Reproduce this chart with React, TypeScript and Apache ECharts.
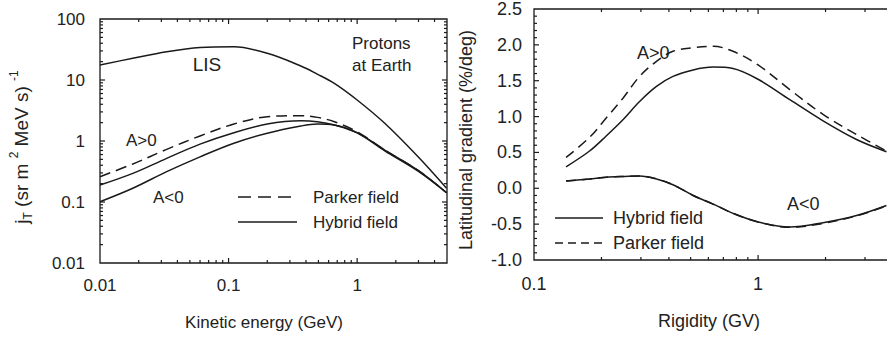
import React, { useEffect, useRef } from "react";
import * as echarts from "echarts";

// ---------- Left panel data: proton spectra at Earth ----------
const energyGeV = [0.01, 0.018, 0.033, 0.06, 0.11, 0.2, 0.365, 0.49, 0.665, 1, 1.64, 2.98, 4.96];
const lisFlux = [17.6, 22.7, 29, 34, 35, 27.4, 17, 12.5, 8.8, 4.7, 1.95, 0.55, 0.168];
const parkerPosFlux = [0.26, 0.42, 0.73, 1.21, 1.9, 2.5, 2.6, 2.44, 2.07, 1.42, 0.71, 0.33, 0.142];
const hybridPosFlux = [0.19, 0.295, 0.52, 0.89, 1.37, 1.9, 2.15, 2.07, 1.83, 1.36, 0.69, 0.32, 0.142];
const hybridNegFlux = [0.101, 0.168, 0.314, 0.55, 0.92, 1.34, 1.76, 1.9, 1.83, 1.37, 0.71, 0.33, 0.142];

// ---------- Right panel data: latitudinal gradient ----------
const rigidityGV = [0.139, 0.177, 0.21, 0.25, 0.296, 0.352, 0.417, 0.513, 0.63, 0.773, 1, 1.38, 1.95, 2.75, 3.74];
const parkerPosGrad = [0.43, 0.71, 0.98, 1.26, 1.56, 1.77, 1.91, 1.96, 1.98, 1.91, 1.72, 1.38, 1.03, 0.75, 0.52];
const hybridPosGrad = [0.3, 0.52, 0.73, 0.96, 1.21, 1.42, 1.56, 1.65, 1.69, 1.67, 1.52, 1.24, 0.94, 0.68, 0.51];
const hybridNegGrad = [0.1, 0.13, 0.155, 0.165, 0.17, 0.13, 0.05, -0.1, -0.22, -0.35, -0.47, -0.54, -0.48, -0.38, -0.24];
const parkerNegGrad = [0.1, 0.13, 0.155, 0.165, 0.17, 0.13, 0.05, -0.1, -0.22, -0.35, -0.47, -0.545, -0.49, -0.385, -0.245];

// ---------- Tick positions ----------
const leftXMajorTicks = [0.1, 1];
const leftXMinorTicks = [0.02, 0.03, 0.04, 0.05, 0.06, 0.07, 0.08, 0.09, 0.2, 0.3, 0.4, 0.5, 0.6, 0.7, 0.8, 0.9, 2, 3, 4];
const leftYMajorTicks = [0.1, 1, 10];
const leftYMinorTicks = [
  0.02, 0.03, 0.04, 0.05, 0.06, 0.07, 0.08, 0.09,
  0.2, 0.3, 0.4, 0.5, 0.6, 0.7, 0.8, 0.9,
  2, 3, 4, 5, 6, 7, 8, 9,
  20, 30, 40, 50, 60, 70, 80, 90,
];
const rightXMajorTicks = [1];
const rightXMinorTicks = [0.2, 0.3, 0.4, 0.5, 0.6, 0.7, 0.8, 0.9, 2, 3];
const rightYMajorTicks = [-0.5, 0, 0.5, 1, 1.5, 2];
const rightYMinorTicks = [
  -0.9, -0.8, -0.7, -0.6, -0.4, -0.3, -0.2, -0.1, 0.1, 0.2, 0.3, 0.4, 0.6, 0.7, 0.8, 0.9,
  1.1, 1.2, 1.3, 1.4, 1.6, 1.7, 1.8, 1.9, 2.1, 2.2, 2.3, 2.4,
];

const FONT = "'Liberation Sans', Arial, Helvetica, sans-serif";
const INK = "#1a1a1a";
const TXT = "#222";

const zip = (xs: number[], ys: number[]) => xs.map((x, i) => [x, ys[i]]);

const powLabel = (v: number) => {
  const l = Math.log10(v);
  if (Math.abs(l - Math.round(l)) > 1e-6) return "";
  const r = Math.round(l);
  return r < 0 ? Math.pow(10, r).toFixed(-r) : String(Math.pow(10, r));
};

// tick mark drawn as a thin rect symbol, pushed inside the frame
const tickSeries = (xi: number, data: number[][], side: "b" | "t" | "l" | "r", len: number) => {
  const vertical = side === "b" || side === "t";
  const size = vertical ? [1.2, len] : [len, 1.2];
  const off =
    side === "b" ? [0, -len / 2] : side === "t" ? [0, len / 2] : side === "l" ? [len / 2, 0] : [-len / 2, 0];
  return {
    type: "scatter",
    xAxisIndex: xi,
    yAxisIndex: xi,
    data,
    symbol: "rect",
    symbolSize: size,
    symbolOffset: off,
    itemStyle: { color: INK, opacity: 1 },
    silent: true,
    clip: false,
    z: 5,
  };
};

export default function App() {
  const ref = useRef<HTMLDivElement>(null);

  useEffect(() => {
    if (!ref.current) return;
    const chart = echarts.init(ref.current, undefined, { renderer: "svg" });

    const LX0 = 0.01, LX1 = 5, LY0 = 0.01, LY1 = 100;
    const RX0 = 0.1, RX1 = 4, RY0 = -1, RY1 = 2.5;

    const at = (xs: number[], y: number) => xs.map((x) => [x, y]);
    const atY = (ys: number[], x: number) => ys.map((y) => [x, y]);

    const lineSeries = (name: string, xi: number, data: number[][], dashed: number[] | null) => ({
      name,
      type: "line",
      xAxisIndex: xi,
      yAxisIndex: xi,
      data,
      showSymbol: false,
      smooth: 0.35,
      lineStyle: { color: INK, width: 1.5, type: dashed ? dashed : "solid" },
      z: 3,
    });

    const ts = (size: number) => ({ fontFamily: FONT, fontSize: size, fill: TXT });

    chart.setOption({
      animation: false,
      backgroundColor: "#fff",
      grid: [
        { left: 100, top: 19, width: 347, height: 244, show: true, borderColor: INK, borderWidth: 1.3, backgroundColor: "transparent" },
        { left: 534, top: 7.5, width: 359, height: 252.5, show: true, borderColor: INK, borderWidth: 1.3, backgroundColor: "transparent" },
      ],
      xAxis: [
        {
          type: "log", logBase: 10, gridIndex: 0, min: LX0, max: LX1,
          axisLine: { show: false }, axisTick: { show: false }, splitLine: { show: false },
          axisLabel: { formatter: powLabel, margin: 14, fontSize: 17, fontFamily: FONT, color: TXT, showMaxLabel: false },
        },
        {
          type: "log", logBase: 10, gridIndex: 1, min: RX0, max: RX1,
          axisLine: { show: false }, axisTick: { show: false }, splitLine: { show: false },
          axisLabel: { formatter: powLabel, margin: 15, fontSize: 18, fontFamily: FONT, color: TXT, showMaxLabel: false },
        },
      ],
      yAxis: [
        {
          type: "log", logBase: 10, gridIndex: 0, min: LY0, max: LY1,
          axisLine: { show: false }, axisTick: { show: false }, splitLine: { show: false },
          axisLabel: { formatter: powLabel, margin: 15, fontSize: 17, fontFamily: FONT, color: TXT },
        },
        {
          type: "value", gridIndex: 1, min: RY0, max: RY1, interval: 0.5,
          axisLine: { show: false }, splitLine: { show: false }, axisTick: { show: false },
          axisLabel: { formatter: (v: number) => v.toFixed(1), margin: 12, fontSize: 18, fontFamily: FONT, color: TXT },
        },
      ],
      series: [
        lineSeries("LIS", 0, zip(energyGeV, lisFlux), null),
        lineSeries("A>0 Parker field", 0, zip(energyGeV, parkerPosFlux), [11, 6]),
        lineSeries("A>0 Hybrid field", 0, zip(energyGeV, hybridPosFlux), null),
        lineSeries("A<0 Hybrid field", 0, zip(energyGeV, hybridNegFlux), null),
        lineSeries("A>0 Parker field (gradient)", 1, zip(rigidityGV, parkerPosGrad), [10, 6]),
        lineSeries("A>0 Hybrid field (gradient)", 1, zip(rigidityGV, hybridPosGrad), null),
        lineSeries("A<0 Hybrid field (gradient)", 1, zip(rigidityGV, hybridNegGrad), null),
        lineSeries("A<0 Parker field (gradient)", 1, zip(rigidityGV, parkerNegGrad), [10, 6]),
        // left panel ticks
        tickSeries(0, at(leftXMajorTicks, LY0), "b", 5),
        tickSeries(0, at(leftXMajorTicks, LY1), "t", 5),
        tickSeries(0, at(leftXMinorTicks, LY0), "b", 3),
        tickSeries(0, at(leftXMinorTicks, LY1), "t", 3),
        tickSeries(0, atY(leftYMajorTicks, LX0), "l", 5),
        tickSeries(0, atY(leftYMajorTicks, LX1), "r", 5),
        tickSeries(0, atY(leftYMinorTicks, LX0), "l", 3),
        tickSeries(0, atY(leftYMinorTicks, LX1), "r", 3),
        // right panel ticks
        tickSeries(1, at(rightXMajorTicks, RY0), "b", 5),
        tickSeries(1, at(rightXMajorTicks, RY1), "t", 5),
        tickSeries(1, at(rightXMinorTicks, RY0), "b", 3),
        tickSeries(1, at(rightXMinorTicks, RY1), "t", 3),
        tickSeries(1, atY(rightYMajorTicks, RX0), "l", 5),
        tickSeries(1, atY(rightYMinorTicks, RX0), "l", 3),
      ],
      graphic: [
        // left panel
        {
          type: "text", x: 21, y: 147, rotation: Math.PI / 2,
          style: {
            text: "{b|j}{sub|T}{b| (sr m }{sup|2}{b| MeV s) }{sup|-1}",
            align: "center", verticalAlign: "middle", fill: TXT, fontFamily: FONT, fontSize: 19,
            rich: {
              b: { fontSize: 19, fontFamily: FONT, fill: TXT, lineHeight: 26, verticalAlign: "middle" },
              sub: { fontSize: 12, fontFamily: FONT, fill: TXT, lineHeight: 13, verticalAlign: "bottom" },
              sup: { fontSize: 12, fontFamily: FONT, fill: TXT, lineHeight: 13, verticalAlign: "top" },
            },
          },
        },
        { type: "text", x: 264, y: 322, style: { ...ts(17), text: "Kinetic energy (GeV)", align: "center", verticalAlign: "middle" } },
        { type: "text", x: 207, y: 64, style: { ...ts(19), text: "LIS", align: "center", verticalAlign: "middle" } },
        { type: "text", x: 352, y: 43, style: { ...ts(17), text: "Protons", align: "left", verticalAlign: "middle" } },
        { type: "text", x: 352, y: 65, style: { ...ts(17), text: "at Earth", align: "left", verticalAlign: "middle" } },
        { type: "text", x: 126, y: 140, style: { ...ts(17), text: "A>0", align: "left", verticalAlign: "middle" } },
        { type: "text", x: 153, y: 197, style: { ...ts(17), text: "A<0", align: "left", verticalAlign: "middle" } },
        { type: "line", shape: { x1: 238, y1: 197, x2: 293, y2: 197 }, style: { stroke: INK, lineWidth: 1.5, lineDash: [13, 7] } },
        { type: "text", x: 313, y: 197, style: { ...ts(17), text: "Parker field", align: "left", verticalAlign: "middle" } },
        { type: "line", shape: { x1: 238, y1: 222, x2: 297, y2: 222 }, style: { stroke: INK, lineWidth: 1.5 } },
        { type: "text", x: 313, y: 222, style: { ...ts(17), text: "Hybrid field", align: "left", verticalAlign: "middle" } },
        // right panel
        {
          type: "text", x: 466, y: 140, rotation: Math.PI / 2,
          style: { ...ts(18), text: "Latitudinal gradient (%/deg)", align: "center", verticalAlign: "middle" },
        },
        { type: "text", x: 709, y: 321, style: { ...ts(18), text: "Rigidity (GV)", align: "center", verticalAlign: "middle" } },
        { type: "text", x: 637, y: 53, style: { ...ts(18), text: "A>0", align: "left", verticalAlign: "middle" } },
        { type: "text", x: 787, y: 204, style: { ...ts(18), text: "A<0", align: "left", verticalAlign: "middle" } },
        { type: "line", shape: { x1: 555, y1: 218, x2: 603, y2: 218 }, style: { stroke: INK, lineWidth: 1.5 } },
        { type: "text", x: 613, y: 218, style: { ...ts(18), text: "Hybrid field", align: "left", verticalAlign: "middle" } },
        { type: "line", shape: { x1: 555, y1: 243, x2: 603, y2: 243 }, style: { stroke: INK, lineWidth: 1.5, lineDash: [8, 5] } },
        { type: "text", x: 613, y: 243, style: { ...ts(18), text: "Parker field", align: "left", verticalAlign: "middle" } },
      ],
    });

    return () => chart.dispose();
  }, []);

  return (
    <div style={{ position: "fixed", left: 0, top: 0, width: 887, height: 340, overflow: "hidden", background: "#fff" }}>
      <div ref={ref} style={{ width: 900, height: 340 }} />
    </div>
  );
}
